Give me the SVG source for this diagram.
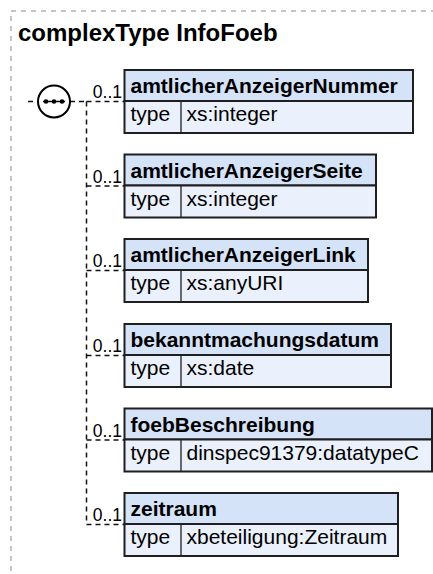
<svg xmlns="http://www.w3.org/2000/svg" width="433" height="574" viewBox="0 0 433 574">
<style>
.frame{fill:none;stroke:#8c8c8c;stroke-width:1;stroke-dasharray:5,5}
.title{font-family:"Liberation Sans",Arial,sans-serif;font-weight:bold;font-size:24px;fill:#000}
.hd{fill:#d5e3f8;stroke:#1f1f1f;stroke-width:2}
.rw{fill:#eaf1fc;stroke:#1f1f1f;stroke-width:2}
.cd{stroke:#1f1f1f;stroke-width:1.3}
.nm{font-family:"Liberation Sans",Arial,sans-serif;font-weight:bold;font-size:21px;fill:#000}
.tx{font-family:"Liberation Sans",Arial,sans-serif;font-size:21px;fill:#000}
.card{font-family:"Liberation Sans",Arial,sans-serif;font-size:17.5px;fill:#000;text-anchor:end}
.con{fill:none;stroke:#111;stroke-width:1.5;stroke-dasharray:5,4}
</style>
<rect class="frame" x="11" y="11" width="440" height="600"/>
<text class="title" x="18" y="41">complexType InfoFoeb</text>

<g id="connectors">
<line class="con" x1="28" y1="101.5" x2="38" y2="101.5"/>
<line class="con" x1="70" y1="101.5" x2="86.5" y2="101.5"/>
<line class="con" x1="86.5" y1="101.5" x2="86.5" y2="524.5"/>
<line class="con" x1="86.5" y1="101.5" x2="124" y2="101.5"/>
<line class="con" x1="86.5" y1="186" x2="124" y2="186"/>
<line class="con" x1="86.5" y1="270.5" x2="124" y2="270.5"/>
<line class="con" x1="86.5" y1="355.5" x2="124" y2="355.5"/>
<line class="con" x1="86.5" y1="440" x2="124" y2="440"/>
<line class="con" x1="86.5" y1="524.5" x2="124" y2="524.5"/>
<text class="card" x="122" y="98">0..1</text>
<text class="card" x="122" y="182.5">0..1</text>
<text class="card" x="122" y="267">0..1</text>
<text class="card" x="122" y="352">0..1</text>
<text class="card" x="122" y="436.5">0..1</text>
<text class="card" x="122" y="521">0..1</text>
</g>

<g id="sequence">
<circle cx="54" cy="101.5" r="16" fill="#fff" stroke="#000" stroke-width="2"/>
<line x1="43" y1="101.5" x2="65" y2="101.5" stroke="#000" stroke-width="1.5"/>
<circle cx="46" cy="101.5" r="2.3" fill="#000"/>
<circle cx="54" cy="101.5" r="2.3" fill="#000"/>
<circle cx="62" cy="101.5" r="2.3" fill="#000"/>
</g>

<g id="amtlicherAnzeigerNummer" transform="translate(124.5,70)">
<rect class="hd" width="288.5" height="31"/>
<rect class="rw" y="31" width="288.5" height="32"/>
<line class="cd" x1="56.5" y1="31" x2="56.5" y2="63"/>
<text class="nm" x="6" y="23">amtlicherAnzeigerNummer</text>
<text class="tx" x="6" y="51">type</text>
<text class="tx" x="62" y="51">xs:integer</text>
</g>

<g id="amtlicherAnzeigerSeite" transform="translate(124.5,154.5)">
<rect class="hd" width="251.5" height="31"/>
<rect class="rw" y="31" width="251.5" height="32"/>
<line class="cd" x1="56.5" y1="31" x2="56.5" y2="63"/>
<text class="nm" x="6" y="23">amtlicherAnzeigerSeite</text>
<text class="tx" x="6" y="51">type</text>
<text class="tx" x="62" y="51">xs:integer</text>
</g>

<g id="amtlicherAnzeigerLink" transform="translate(124.5,239)">
<rect class="hd" width="243.5" height="31"/>
<rect class="rw" y="31" width="243.5" height="32"/>
<line class="cd" x1="56.5" y1="31" x2="56.5" y2="63"/>
<text class="nm" x="6" y="23">amtlicherAnzeigerLink</text>
<text class="tx" x="6" y="51">type</text>
<text class="tx" x="62" y="51">xs:anyURI</text>
</g>

<g id="bekanntmachungsdatum" transform="translate(124.5,324)">
<rect class="hd" width="266.5" height="31"/>
<rect class="rw" y="31" width="266.5" height="32"/>
<line class="cd" x1="56.5" y1="31" x2="56.5" y2="63"/>
<text class="nm" x="6" y="23">bekanntmachungsdatum</text>
<text class="tx" x="6" y="51">type</text>
<text class="tx" x="62" y="51">xs:date</text>
</g>

<g id="foebBeschreibung" transform="translate(124.5,408.5)">
<rect class="hd" width="307.5" height="31"/>
<rect class="rw" y="31" width="307.5" height="32"/>
<line class="cd" x1="56.5" y1="31" x2="56.5" y2="63"/>
<text class="nm" x="6" y="23">foebBeschreibung</text>
<text class="tx" x="6" y="51">type</text>
<text class="tx" x="62" y="51">dinspec91379:datatypeC</text>
</g>

<g id="zeitraum" transform="translate(124.5,493)">
<rect class="hd" width="273.5" height="31"/>
<rect class="rw" y="31" width="273.5" height="32"/>
<line class="cd" x1="56.5" y1="31" x2="56.5" y2="63"/>
<text class="nm" x="6" y="23">zeitraum</text>
<text class="tx" x="6" y="51">type</text>
<text class="tx" x="62" y="51">xbeteiligung:Zeitraum</text>
</g>
</svg>
